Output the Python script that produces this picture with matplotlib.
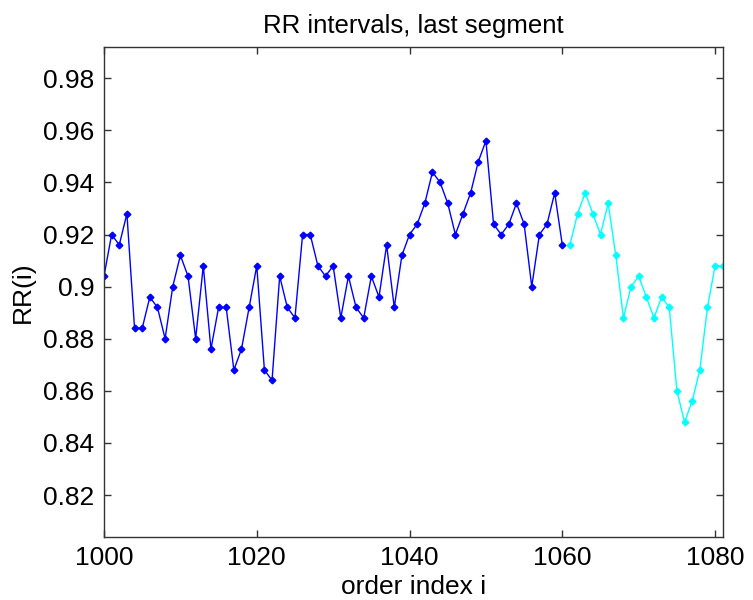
"""RR intervals, last segment: beat-index plot of the tail of an RR series."""

import matplotlib

matplotlib.use("Agg")
import matplotlib.pyplot as plt
from matplotlib.ticker import FuncFormatter

# first part of the segment (blue), beats 1000..1060
idx_main = list(range(1000, 1061))
rr_main = [
    0.904, 0.920, 0.916, 0.928, 0.884, 0.884, 0.896, 0.892, 0.880, 0.900,
    0.912, 0.904, 0.880, 0.908, 0.876, 0.892, 0.892, 0.868, 0.876, 0.892,
    0.908, 0.868, 0.864, 0.904, 0.892, 0.888, 0.920, 0.920, 0.908, 0.904,
    0.908, 0.888, 0.904, 0.892, 0.888, 0.904, 0.896, 0.916, 0.892, 0.912,
    0.920, 0.924, 0.932, 0.944, 0.940, 0.932, 0.920, 0.928, 0.936, 0.948,
    0.956, 0.924, 0.920, 0.924, 0.932, 0.924, 0.900, 0.920, 0.924, 0.936,
    0.916,
]

# last beats (cyan), 1061..1081
idx_tail = list(range(1061, 1082))
rr_tail = [
    0.916, 0.928, 0.936, 0.928, 0.920, 0.932, 0.912, 0.888, 0.900, 0.904,
    0.896, 0.888, 0.896, 0.892, 0.860, 0.848, 0.856, 0.868, 0.892, 0.908,
    0.908,
]

x_ticks = [1000, 1020, 1040, 1060, 1080]
y_ticks = [0.82, 0.84, 0.86, 0.88, 0.90, 0.92, 0.94, 0.96, 0.98]

plt.rcParams["font.family"] = ["Liberation Sans", "DejaVu Sans"]

fig = plt.figure(figsize=(7.53, 6.0), dpi=100, facecolor="white")
ax = fig.add_axes([0.1381, 0.1055, 0.8217, 0.8162])

ax.plot(idx_main, rr_main, color="#0000ff", lw=1.0, marker="D", ms=3.4,
        mec="#0000ff", mfc="#0000ff")
ax.plot(idx_tail, rr_tail, color="#00ffff", lw=1.0, marker="D", ms=3.4,
        mec="#00ffff", mfc="#00ffff")

ax.set_xlim(1000, 1081)
ax.set_ylim(0.804, 0.992)
ax.set_xticks(x_ticks)
ax.set_yticks(y_ticks)
ax.yaxis.set_major_formatter(FuncFormatter(lambda v, _: f"{v:g}"))

ax.tick_params(direction="in", length=5, width=1, color="#333333",
               labelsize=19, top=True, right=True, pad=7)
for s in ax.spines.values():
    s.set_color("#333333")
    s.set_linewidth(1.0)

ax.set_title("RR intervals, last segment", fontsize=18.5, pad=10)
ax.set_xlabel("order index i", fontsize=19, labelpad=3)
ax.set_ylabel("RR(i)", fontsize=19, labelpad=6)

fig.savefig("out.png", dpi=100, facecolor="white")
